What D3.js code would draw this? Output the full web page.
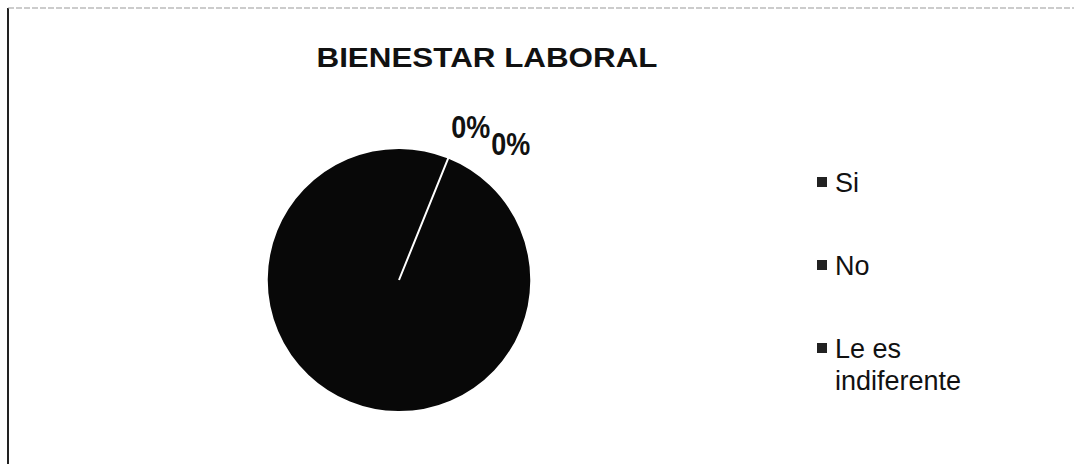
<!doctype html>
<html>
<head>
  <meta charset="utf-8">
  <script src="https://d3js.org/d3.v7.min.js"></script>
  <style>
    body { margin: 0; background: #fff; }
    svg text { font-family: "Liberation Sans", Arial, sans-serif; fill: #111; }
  </style>
</head>
<body>
<script>
  // chart data
  var title = "BIENESTAR LABORAL";
  var categories = ["Si", "No", "Le es indiferente"];
  var values = [0, 100, 0];
  var legendLines = [["Si"], ["No"], ["Le es", "indiferente"]];

  var width = 1074, height = 464;
  var svg = d3.select("body").append("svg")
    .attr("width", width)
    .attr("height", height);

  // frame of the scanned chart area
  svg.append("line")
    .attr("x1", 8).attr("y1", 8).attr("x2", 8).attr("y2", height)
    .style("stroke", "#222").style("stroke-width", 2);
  svg.append("line")
    .attr("x1", 8).attr("y1", 8).attr("x2", width).attr("y2", 8)
    .style("stroke", "#999").style("stroke-width", 1)
    .style("stroke-dasharray", "6,2");

  svg.append("text")
    .attr("x", 487).attr("y", 67)
    .attr("text-anchor", "middle")
    .style("font-size", "27px")
    .style("font-weight", "bold")
    .attr("textLength", 341)
    .attr("lengthAdjust", "spacingAndGlyphs")
    .text(title);

  var cx = 399, cy = 280, radius = 132;
  var start = 22 * Math.PI / 180;

  var pie = d3.pie()
    .sort(null)
    .startAngle(start)
    .endAngle(start + 2 * Math.PI);

  var arcs = pie(values);
  var arc = d3.arc().innerRadius(0).outerRadius(radius);
  var labelArc = d3.arc().innerRadius(radius + 38).outerRadius(radius + 38);

  var g = svg.append("g").attr("transform", "translate(" + cx + "," + cy + ")");

  g.selectAll("path")
    .data(arcs)
    .join("path")
    .attr("d", arc)
    .style("fill", "#080808")
    .style("stroke", "#fff")
    .style("stroke-width", 2);

  var pct = d3.format(".0%");
  var total = d3.sum(values);
  // zero slices get outside labels, nudged apart so they don't sit on each other
  var zeroArcs = arcs.filter(function (d) { return d.data === 0; });
  g.selectAll("text.lbl")
    .data(zeroArcs)
    .join("text")
    .attr("class", "lbl")
    .attr("transform", function (d, i) {
      var c = labelArc.centroid(d);
      return "translate(" + (c[0] + 8 + i * 40) + "," + (c[1] + 16 + i * 17) + ")";
    })
    .attr("text-anchor", "middle")
    .style("font-size", "31px")
    .style("font-weight", "bold")
    .attr("textLength", 39)
    .attr("lengthAdjust", "spacingAndGlyphs")
    .text(function (d) { return pct(d.data / total); });

  // legend
  var legendY = d3.scalePoint().domain(categories).range([192, 358]);
  var leg = svg.selectAll("g.leg")
    .data(categories)
    .join("g")
    .attr("class", "leg")
    .attr("transform", function (d) { return "translate(817," + legendY(d) + ")"; });

  leg.append("rect")
    .attr("x", 0).attr("y", -15)
    .attr("width", 10).attr("height", 10)
    .style("fill", "#222");

  leg.append("text")
    .attr("x", 18).attr("y", 0)
    .style("font-size", "27px")
    .selectAll("tspan")
    .data(function (d, i) { return legendLines[i]; })
    .join("tspan")
    .attr("x", 18)
    .attr("dy", function (d, i) { return i === 0 ? 0 : 32; })
    .text(function (d) { return d; });
</script>
</body>
</html>
